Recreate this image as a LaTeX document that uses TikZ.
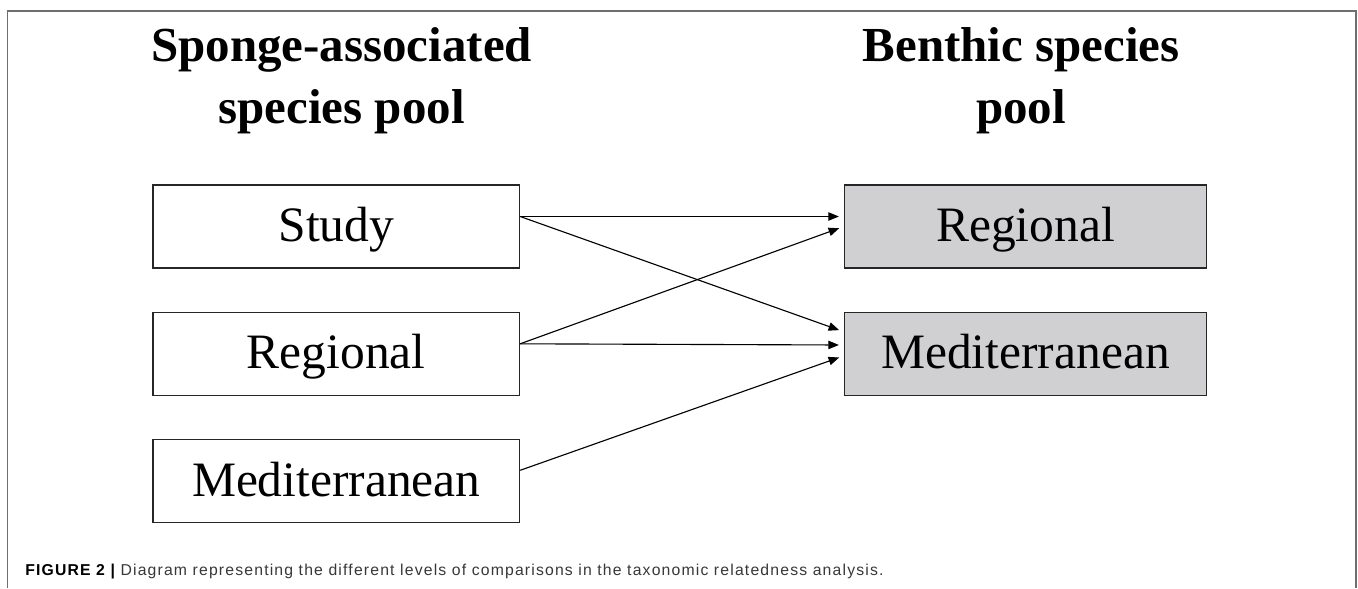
\documentclass[tikz,border=0pt]{standalone}
\usepackage{fontspec}
\setmainfont{Liberation Serif}
\newfontfamily\capfont{Liberation Sans}[LetterSpace=7.5]
\usetikzlibrary{arrows.meta, positioning}
\definecolor{poolgray}{RGB}{208,207,209}
\definecolor{framegray}{RGB}{110,110,110}
\definecolor{captext}{RGB}{55,55,55}

\begin{document}
\begin{tikzpicture}[x=0.025cm, y=-0.025cm,
    pool/.style={draw=black!85, line width=0.9pt, minimum height=2.075cm, inner sep=0pt, text height=0.8cm, text depth=0.05cm, font=\fontsize{35.2}{42}\selectfont},
    sponge/.style={pool, minimum width=9.16cm},
    benthic/.style={pool, minimum width=9.05cm, fill=poolgray},
    heading/.style={align=center, inner sep=0pt, font=\fontsize{34.8}{44}\selectfont\bfseries},
    link/.style={-{Triangle[length=7.5pt, width=6pt]}, line width=0.8pt, shorten >=0.125cm}
]
\useasboundingbox (0,0) rectangle (1358,588);

% Frame (open at the bottom)
\draw[framegray, line width=1.4pt] (7.5,588) -- (7.5,11) -- (1355.5,11) -- (1355.5,588);

% Headings
\node[heading] (shead) at (341.7,81) {Sponge-associated\\species pool};
\node[heading] (bhead) at (1021,81) {Benthic species\\pool};

% Sponge-associated species pool
\node[sponge] (sstudy) at (336.3,226.5) {Study};
\node[sponge, below=1.075cm of sstudy] (sreg) {Regional};
\node[sponge, below=1.075cm of sreg] (smed) {Mediterranean};

% Benthic species pool
\node[benthic, right=8.09cm of sstudy] (breg) {Regional};
\node[benthic, below=1.075cm of breg] (bmed) {Mediterranean};

% Comparisons
\draw[link] ([yshift=0.25cm]sstudy.east) -- ([yshift=0.25cm]breg.west);
\draw[link] ([yshift=0.25cm]sstudy.east) -- ([yshift=0.55cm]bmed.west);
\draw[link] ([yshift=0.25cm]sreg.east) -- (breg.west);
\draw[link] ([yshift=0.25cm]sreg.east) -- ([yshift=0.22cm]bmed.west);
\draw[link] ([yshift=0.27cm]smed.east) -- ([yshift=-0.05cm]bmed.west);

% Caption
\node[anchor=base west, inner sep=0pt, font=\capfont\fontsize{11.2}{13}\selectfont, text=captext] (caption) at (25,575.7)
    {\textbf{\color{black}FIGURE 2 |} Diagram representing the different levels of comparisons in the taxonomic relatedness analysis.};
\end{tikzpicture}
\end{document}
